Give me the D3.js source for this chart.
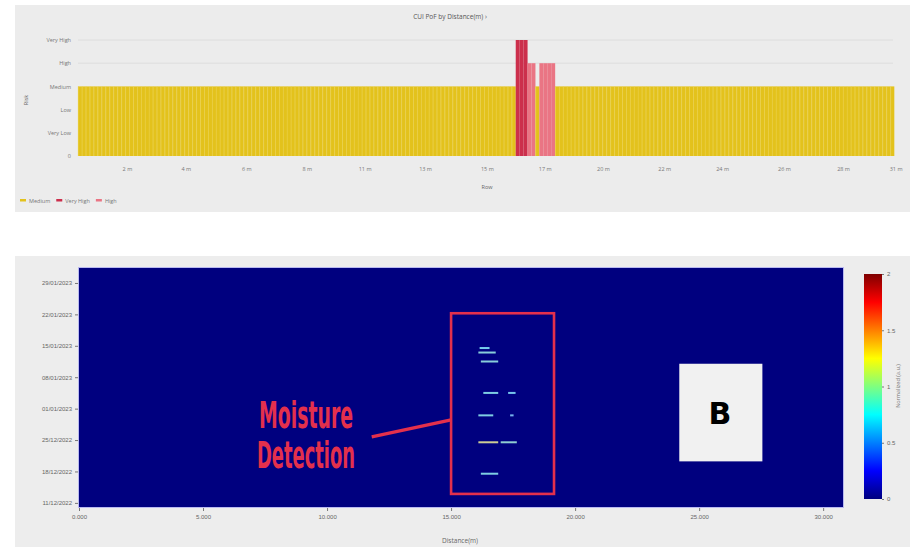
<!DOCTYPE html>
<html><head><meta charset="utf-8">
<script src="https://cdn.jsdelivr.net/npm/d3@7"></script>
<style>
html,body{margin:0;padding:0;background:#fff;}
svg{display:block;font-family:"Open Sans","DejaVu Sans",sans-serif;}
</style></head>
<body>
<svg id="c" width="910" height="547"></svg>
<script>
// ---------- DATA ----------
// Top chart: risk levels
const riskLevels = ["0", "Very Low", "Low", "Medium", "High", "Very High"];
const riskColors = {"Medium": "#e3c21c", "Very High": "#cc2f4c", "High": "#ea7584"};
const legendItems = ["Medium", "Very High", "High"];
// risk segments (distance in m)
const segStart = [0.0, 16.55, 17.05, 17.3, 17.55, 18.05];
const segEnd   = [16.55, 17.05, 17.3, 17.55, 18.05, 31.0];
const segLevel = ["Medium", "Very High", "High", "Medium", "High", "Medium"];
const barStep = 0.15; // bar spacing (m)
const topTickDist  = [1.86, 4.1, 6.4, 8.7, 10.9, 13.2, 15.55, 17.75, 19.97, 22.3, 24.5, 26.85, 29.1, 31.1];
const topTickLabel = ["2 m","4 m","6 m","8 m","11 m","13 m","15 m","17 m","20 m","22 m","24 m","26 m","28 m","31 m"];

// Bottom heatmap
const dateTicks = ["2022-12-11","2022-12-18","2022-12-25","2023-01-01","2023-01-08","2023-01-15","2023-01-22","2023-01-29"];
const distTicks = [0, 5, 10, 15, 20, 25, 30];
const heatDateExtent = ["2022-12-10T02:00", "2023-02-01T08:00"];
const heatDistExtent = [0, 30.8];
const streakDate  = ["2023-01-14","2023-01-13","2023-01-11","2023-01-04","2023-01-04","2022-12-30","2022-12-30","2022-12-24","2022-12-24","2022-12-17"];
const streakFrom  = [16.15, 16.1, 16.2, 16.3, 17.3, 16.1, 17.38, 16.1, 17.0, 16.2];
const streakTo    = [16.55, 16.8, 16.9, 16.9, 17.6, 16.7, 17.52, 16.9, 17.65, 16.9];
const streakValue = [0.75, 0.85, 0.85, 0.8, 0.7, 0.8, 0.6, 1.25, 0.9, 0.8];
const colorTicks = [0, 0.5, 1, 1.5, 2];

// ---------- DRAW ----------
const svg = d3.select("#c");
const jetStops = ["#00007f","#0000ff","#007fff","#00ffff","#7fff7f","#ffff00","#ff7f00","#ff0000","#7f0000"];
const jet = d3.scaleLinear().domain(d3.range(jetStops.length).map(i => 2 * i / (jetStops.length - 1))).range(jetStops).clamp(true);

// panels
svg.append("rect").attr("x", 15).attr("y", 5).attr("width", 895).attr("height", 207).attr("fill", "#ececec");
svg.append("rect").attr("x", 15).attr("y", 256).attr("width", 895).attr("height", 291).attr("fill", "#ededed");

// ---- top bar chart ----
const xT = d3.scaleLinear().domain([0, 31.0]).range([78, 893]);
const yT = d3.scaleLinear().domain([0, 5]).range([156, 40]);
const levelOf = d => { for (let i = 0; i < segStart.length; i++) if (d >= segStart[i] - 1e-9 && d < segEnd[i] - 1e-9) return segLevel[i]; return "Medium"; };
const bars = d3.range(0, 31.0 - 1e-9, barStep).map(d => ({d, level: levelOf(d)}));

svg.append("text").attr("x", 450).attr("y", 19).attr("text-anchor", "middle").attr("font-size", 6.5).attr("fill", "#555").text("CUI PoF by Distance(m) ›");

// gridlines
const gT = svg.append("g");
[4, 5].forEach(v => gT.append("line").attr("x1", 78).attr("x2", 893).attr("y1", yT(v)).attr("y2", yT(v)).attr("stroke", "#dadada").attr("stroke-width", 0.8));

gT.selectAll("rect.bar").data(bars).join("rect").attr("class", "bar")
  .attr("x", b => xT(b.d)).attr("width", xT(barStep) - xT(0))
  .attr("y", b => yT(riskLevels.indexOf(b.level))).attr("height", b => yT(0) - yT(riskLevels.indexOf(b.level)))
  .attr("fill", b => riskColors[b.level]);
// faint bar separators on the yellow bars
gT.selectAll("line.sep").data(bars.filter(b => b.level === "Medium")).join("line").attr("class", "sep")
  .attr("x1", b => xT(b.d) + 0.3).attr("x2", b => xT(b.d) + 0.3)
  .attr("y1", b => yT(riskLevels.indexOf(b.level))).attr("y2", yT(0))
  .attr("stroke", "#ecd453").attr("stroke-width", 0.6);

const yAxT = svg.append("g").attr("transform", "translate(74,0)")
  .call(d3.axisLeft(yT).tickValues(d3.range(6)).tickFormat(i => riskLevels[i]).tickSize(0));
yAxT.select(".domain").remove();
yAxT.selectAll("text").attr("font-size", 5.5).attr("fill", "#777").attr("font-family", "Open Sans, sans-serif");

const xAxT = svg.append("g").attr("transform", "translate(0,166)")
  .call(d3.axisBottom(xT).tickValues(topTickDist).tickFormat((d, i) => topTickLabel[i]).tickSize(0));
xAxT.select(".domain").remove();
xAxT.selectAll("text").attr("font-size", 5.5).attr("fill", "#777").attr("dy", "0.3em").attr("font-family", "Open Sans, sans-serif");

svg.append("text").attr("x", 487).attr("y", 189).attr("text-anchor", "middle").attr("font-size", 5.5).attr("fill", "#666").text("Row");
svg.append("text").attr("transform", "translate(28,100) rotate(-90)").attr("text-anchor", "middle").attr("font-size", 5.5).attr("fill", "#666").text("Risk");

// legend
let lx = 20;
legendItems.forEach(k => {
  svg.append("rect").attr("x", lx).attr("y", 199).attr("width", 6).attr("height", 2.5).attr("fill", riskColors[k]);
  const t = svg.append("text").attr("x", lx + 9).attr("y", 202.5).attr("font-size", 5.5).attr("fill", "#777").text(k);
  lx += 9 + t.node().getComputedTextLength() + 6;
});

// ---- bottom heatmap ----
const parse = s => new Date(s);
const xH = d3.scaleLinear().domain(heatDistExtent).range([79, 843]);
const yH = d3.scaleTime().domain(heatDateExtent.map(parse)).range([507, 268]);

svg.append("rect").attr("x", xH(heatDistExtent[0]) - 1).attr("y", yH.range()[1] - 1)
  .attr("width", xH(heatDistExtent[1]) - xH(heatDistExtent[0]) + 2).attr("height", yH.range()[0] - yH.range()[1] + 2)
  .attr("fill", "#b9b9f0");
svg.append("rect").attr("x", xH(heatDistExtent[0])).attr("y", yH.range()[1])
  .attr("width", xH(heatDistExtent[1]) - xH(heatDistExtent[0])).attr("height", yH.range()[0] - yH.range()[1])
  .attr("fill", jet(0));

const defs = svg.append("defs");
defs.append("filter").attr("id", "blur").attr("x", "-20%").attr("y", "-200%").attr("width", "140%").attr("height", "500%")
  .append("feGaussianBlur").attr("stdDeviation", 0.7);
const streaks = streakDate.map((d, i) => ({date: parse(d + "T12:00"), from: streakFrom[i], to: streakTo[i], v: streakValue[i]}));
svg.append("g").attr("filter", "url(#blur)").attr("opacity", 0.85).selectAll("rect").data(streaks).join("rect")
  .attr("x", s => xH(s.from)).attr("width", s => xH(s.to) - xH(s.from))
  .attr("y", s => yH(s.date) - 1).attr("height", 2)
  .attr("fill", s => d3.interpolateRgb(jet(s.v), "#e8e8ff")(0.6));

const yAxH = svg.append("g").attr("transform", "translate(78,0)")
  .call(d3.axisLeft(yH).tickValues(dateTicks.map(d => parse(d + "T00:00"))).tickFormat(d3.timeFormat("%d/%m/%Y")).tickSize(3));
yAxH.select(".domain").remove();
yAxH.selectAll("line").attr("stroke", "#777");
yAxH.selectAll("text").attr("font-size", 6).attr("fill", "#666");

const xAxH = svg.append("g").attr("transform", "translate(0,508)")
  .call(d3.axisBottom(xH).tickValues(distTicks).tickFormat(d3.format(".3f")).tickSize(3));
xAxH.select(".domain").remove();
xAxH.selectAll("line").attr("stroke", "#777");
xAxH.selectAll("text").attr("font-size", 6).attr("fill", "#666").attr("dy", "0.9em");
svg.append("text").attr("x", 460).attr("y", 543).attr("text-anchor", "middle").attr("font-size", 6.5).attr("fill", "#666").text("Distance(m)");

// colorbar
const cScale = d3.scaleLinear().domain([0, 2]).range([499, 274]);
const grad = defs.append("linearGradient").attr("id", "jetg").attr("x1", 0).attr("x2", 0).attr("y1", 1).attr("y2", 0);
jetStops.forEach((c, i) => grad.append("stop").attr("offset", i / (jetStops.length - 1)).attr("stop-color", c));
svg.append("rect").attr("x", 864).attr("y", cScale(2)).attr("width", 18).attr("height", cScale(0) - cScale(2)).attr("fill", "url(#jetg)");
const cAx = svg.append("g").attr("transform", "translate(882,0)")
  .call(d3.axisRight(cScale).tickValues(colorTicks).tickFormat(d3.format("~g")).tickSize(2));
cAx.select(".domain").remove();
cAx.selectAll("line").attr("stroke", "#777");
cAx.selectAll("text").attr("font-size", 6).attr("fill", "#666");
svg.append("text").attr("transform", "translate(900,386) rotate(-90)").attr("text-anchor", "middle").attr("font-size", 5.5).attr("fill", "#777").text("Normalized (a.u.)");

// annotations
const annoRed = "#e3304c";
svg.append("rect").attr("x", xH(15.0)).attr("y", yH(parse("2023-01-22T06:00"))).attr("width", xH(19.15) - xH(15.0))
  .attr("height", yH(parse("2022-12-13T00:00")) - yH(parse("2023-01-22T06:00")))
  .attr("fill", "none").attr("stroke", annoRed).attr("stroke-width", 2.6);
svg.append("line").attr("x1", xH(11.8)).attr("y1", yH(parse("2022-12-25T17:00"))).attr("x2", xH(15.0)).attr("y2", yH(parse("2022-12-29T12:00")))
  .attr("stroke", annoRed).attr("stroke-width", 3.2);
[["Moisture", 428, 94], ["Detection", 468, 98]].forEach(([t, yb, w]) => {
  svg.append("text").attr("x", 306).attr("y", yb).attr("text-anchor", "middle")
    .attr("font-family", "'Liberation Sans Narrow','DejaVu Sans Condensed',sans-serif").attr("font-weight", "bold")
    .attr("font-size", 38).attr("fill", annoRed).attr("textLength", w).attr("lengthAdjust", "spacingAndGlyphs").text(t);
});
svg.append("rect").attr("x", xH(24.2)).attr("y", yH(parse("2023-01-11T00:00"))).attr("width", xH(27.55) - xH(24.2))
  .attr("height", yH(parse("2022-12-20T06:00")) - yH(parse("2023-01-11T00:00"))).attr("fill", "#f1f1f1");
svg.append("text").attr("x", 720).attr("y", 424).attr("text-anchor", "middle").attr("font-family", "'DejaVu Sans',sans-serif")
  .attr("font-weight", "bold").attr("font-size", 30).attr("fill", "#000").text("B");
</script>
</body></html>
